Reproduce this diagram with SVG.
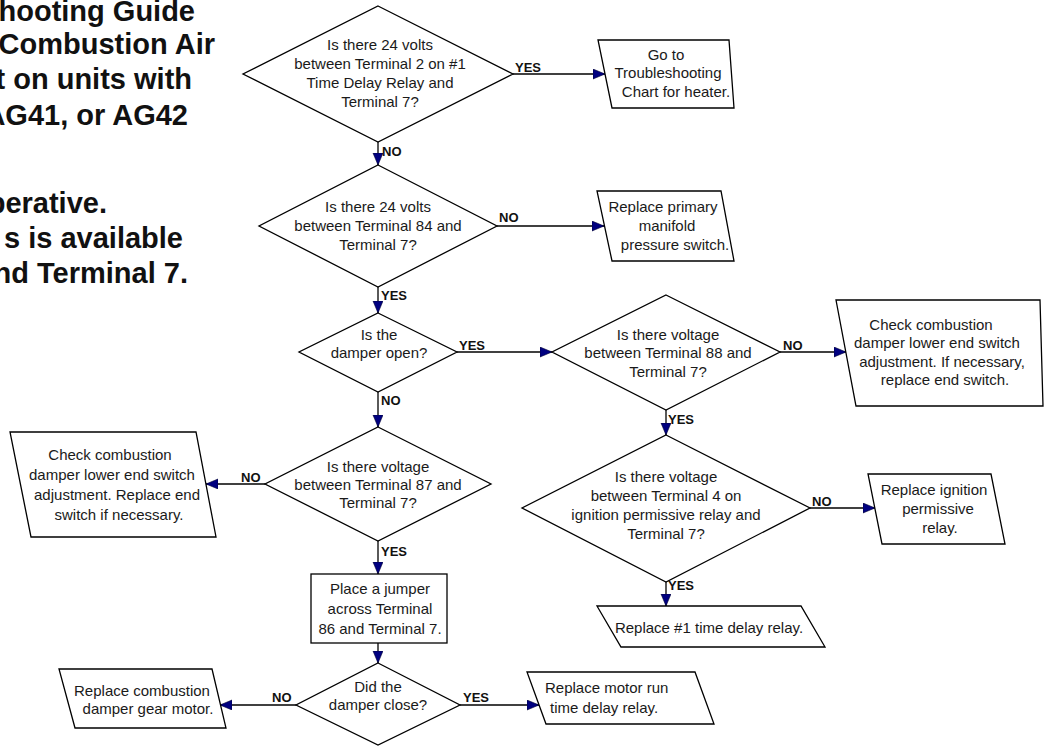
<svg xmlns="http://www.w3.org/2000/svg" width="1044" height="746" viewBox="0 0 1044 746">
<defs>
<marker id="arr" markerUnits="userSpaceOnUse" markerWidth="14" markerHeight="12" refX="12" refY="5" orient="auto">
<path d="M0,0 L12,5 L0,10 z" fill="#000080" stroke="#000033" stroke-width="0.6"/>
</marker>
<style>
.shape{fill:#fff;stroke:#000;stroke-width:1.3}
.conn{fill:none;stroke:#000;stroke-width:1.3;marker-end:url(#arr)}
.t{font-family:"Liberation Sans",Arial,sans-serif;font-size:15px;fill:#1a1a1a;text-anchor:middle}
.ts{font-family:"Liberation Sans",Arial,sans-serif;font-size:15px;fill:#1a1a1a}
.lbl{font-family:"Liberation Sans",Arial,sans-serif;font-size:13px;font-weight:bold;fill:#111}
.title{font-family:"Liberation Sans",Arial,sans-serif;font-size:29px;font-weight:bold;fill:#111;text-anchor:end}
</style>
</defs>
<rect width="1044" height="746" fill="#fff"/>
<g id="title">
<text class="title" x="195" y="21">hooting Guide</text>
<text class="title" x="215" y="54">Combustion Air</text>
<text class="title" x="192" y="89">t on units with</text>
<text class="title" x="188" y="125">AG41, or AG42</text>
<text class="title" x="107" y="213">perative.</text>
<text class="title" x="183" y="248">s is available</text>
<text class="title" x="188" y="283">nd Terminal 7.</text>
</g>
<g id="connectors">
<line class="conn" x1="513" y1="74" x2="605" y2="74"/>
<line class="conn" x1="378" y1="142" x2="378" y2="165"/>
<line class="conn" x1="497" y1="226" x2="604" y2="226"/>
<line class="conn" x1="378" y1="287" x2="378" y2="313"/>
<line class="conn" x1="457" y1="352" x2="552" y2="352"/>
<line class="conn" x1="780" y1="352" x2="846" y2="352"/>
<line class="conn" x1="666" y1="410" x2="666" y2="435"/>
<line class="conn" x1="810" y1="508" x2="875" y2="508"/>
<line class="conn" x1="666" y1="582" x2="666" y2="606"/>
<line class="conn" x1="378" y1="392" x2="378" y2="427"/>
<line class="conn" x1="265" y1="484" x2="206" y2="484"/>
<line class="conn" x1="378" y1="541" x2="378" y2="574"/>
<line class="conn" x1="378" y1="643" x2="378" y2="663"/>
<line class="conn" x1="296" y1="705" x2="220" y2="705"/>
<line class="conn" x1="460" y1="705" x2="539" y2="705"/>
<text class="lbl" x="515" y="72">YES</text>
<text class="lbl" x="382" y="156">NO</text>
<text class="lbl" x="499" y="222">NO</text>
<text class="lbl" x="381" y="300">YES</text>
<text class="lbl" x="459" y="350">YES</text>
<text class="lbl" x="783" y="350">NO</text>
<text class="lbl" x="668" y="424">YES</text>
<text class="lbl" x="812" y="506">NO</text>
<text class="lbl" x="668" y="590">YES</text>
<text class="lbl" x="381" y="405">NO</text>
<text class="lbl" x="241" y="482">NO</text>
<text class="lbl" x="381" y="556">YES</text>
<text class="lbl" x="272" y="702">NO</text>
<text class="lbl" x="463" y="702">YES</text>
</g>
<g id="d1">
<polygon class="shape" points="378,6 513,74 378,142 243,74"/>
<text class="t" x="380" y="50">Is there 24 volts</text>
<text class="t" x="380" y="69">between Terminal 2 on #1</text>
<text class="t" x="380" y="88">Time Delay Relay and</text>
<text class="t" x="380" y="107">Terminal 7?</text>
</g>
<g id="box1">
<polygon class="shape" points="598,40 729,40 734,108 612,108"/>
<text class="t" x="666" y="60">Go to</text>
<text class="t" x="668" y="78">Troubleshooting</text>
<text class="t" x="676" y="97">Chart for heater.</text>
</g>
<g id="d2">
<polygon class="shape" points="378,165 497,226 378,287 259,226"/>
<text class="t" x="378" y="212">Is there 24 volts</text>
<text class="t" x="378" y="231">between Terminal 84 and</text>
<text class="t" x="378" y="250">Terminal 7?</text>
</g>
<g id="box2">
<polygon class="shape" points="597,191 721,191 734,261 612,261"/>
<text class="t" x="663" y="212">Replace primary</text>
<text class="t" x="667" y="231">manifold</text>
<text class="t" x="675" y="250">pressure switch.</text>
</g>
<g id="d3">
<polygon class="shape" points="378,313 457,352 378,392 299,352"/>
<text class="t" x="379" y="340">Is the</text>
<text class="t" x="379" y="358">damper open?</text>
</g>
<g id="d4">
<polygon class="shape" points="666,295 780,352 666,410 552,352"/>
<text class="t" x="668" y="340">Is there voltage</text>
<text class="t" x="668" y="358">between Terminal 88 and</text>
<text class="t" x="668" y="377">Terminal 7?</text>
</g>
<g id="box4">
<polygon class="shape" points="836,300 1040,300 1043,406 856,406"/>
<text class="t" x="931" y="330">Check combustion</text>
<text class="t" x="937" y="348">damper lower end switch</text>
<text class="t" x="942" y="367">adjustment. If necessary,</text>
<text class="t" x="945" y="385">replace end switch.</text>
</g>
<g id="d5">
<polygon class="shape" points="666,435 810,508 666,582 522,508"/>
<text class="t" x="666" y="482">Is there voltage</text>
<text class="t" x="666" y="501">between Terminal 4 on</text>
<text class="t" x="666" y="520">ignition permissive relay and</text>
<text class="t" x="666" y="539">Terminal 7?</text>
</g>
<g id="box5">
<polygon class="shape" points="868,474 991,474 1005,544 882,544"/>
<text class="t" x="934" y="495">Replace ignition</text>
<text class="t" x="938" y="514">permissive</text>
<text class="t" x="940" y="533">relay.</text>
</g>
<g id="box6">
<polygon class="shape" points="597,606 801,606 825,647 621,647"/>
<text class="t" x="709" y="633">Replace #1 time delay relay.</text>
</g>
<g id="d6">
<polygon class="shape" points="378,427 491,484 378,541 265,484"/>
<text class="t" x="378" y="472">Is there voltage</text>
<text class="t" x="378" y="490">between Terminal 87 and</text>
<text class="t" x="378" y="508">Terminal 7?</text>
</g>
<g id="box8">
<polygon class="shape" points="10,432 196,432 216,537 31,537"/>
<text class="t" x="110" y="460">Check combustion</text>
<text class="t" x="112" y="480">damper lower end switch</text>
<text class="t" x="117" y="500">adjustment. Replace end</text>
<text class="t" x="119" y="520">switch if necessary.</text>
</g>
<g id="box7">
<rect class="shape" x="311" y="574" width="136" height="69"/>
<text class="t" x="380" y="594">Place a jumper</text>
<text class="t" x="380" y="614">across Terminal</text>
<text class="t" x="380" y="634">86 and Terminal 7.</text>
</g>
<g id="d7">
<polygon class="shape" points="378,663 460,705 378,745 296,705"/>
<text class="t" x="378" y="692">Did the</text>
<text class="t" x="378" y="710">damper close?</text>
</g>
<g id="box9">
<polygon class="shape" points="59,669 212,669 226,728 75,728"/>
<text class="t" x="142" y="696">Replace combustion</text>
<text class="t" x="148" y="714">damper gear motor.</text>
</g>
<g id="box10">
<polygon class="shape" points="527,672 695,672 714,724 546,724"/>
<text class="ts" x="545" y="693">Replace motor run</text>
<text class="ts" x="550" y="713">time delay relay.</text>
</g>
</svg>
